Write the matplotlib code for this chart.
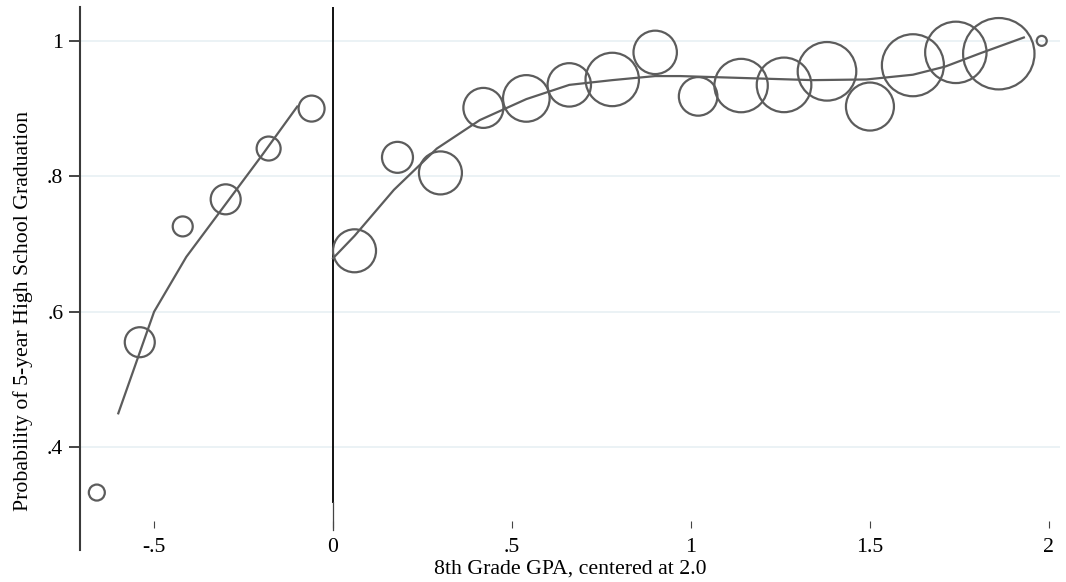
import numpy as np
import matplotlib.pyplot as plt
from matplotlib.lines import Line2D

# binned means (circles), left and right of the cutoff
left_x = [-0.66, -0.54, -0.42, -0.30, -0.18, -0.06]
left_y = [0.333, 0.555, 0.726, 0.766, 0.841, 0.900]
left_w = [64, 225, 100, 225, 144, 169]

right_x = [0.06, 0.18, 0.30, 0.42, 0.54, 0.66, 0.78, 0.90, 1.02, 1.14,
           1.26, 1.38, 1.50, 1.62, 1.74, 1.86, 1.98]
right_y = [0.690, 0.828, 0.805, 0.901, 0.915, 0.935, 0.943, 0.983, 0.918, 0.934,
           0.935, 0.955, 0.903, 0.964, 0.983, 0.981, 1.000]
right_w = [462, 240, 462, 400, 543, 471, 713, 471, 372, 713,
           745, 858, 576, 961, 942, 1274, 25]

# fitted curves
fit_left_x = [-0.60, -0.50, -0.41, -0.30, -0.20, -0.10]
fit_left_y = [0.450, 0.600, 0.681, 0.759, 0.830, 0.903]

fit_right_x = [0.0, 0.06, 0.17, 0.29, 0.41, 0.54, 0.66, 0.78, 0.90, 0.97,
               1.155, 1.34, 1.49, 1.62, 1.71, 1.81, 1.93]
fit_right_y = [0.679, 0.712, 0.780, 0.841, 0.883, 0.914, 0.935, 0.942, 0.948, 0.948,
               0.945, 0.942, 0.943, 0.950, 0.962, 0.982, 1.005]

xticks = [-0.5, 0, 0.5, 1, 1.5, 2]
xticklabels = ["-.5", "0", ".5", "1", "1.5", "2"]
yticks = [0.4, 0.6, 0.8, 1.0]
yticklabels = [".4", ".6", ".8", "1"]

GREY = "#5c5c5c"
FONT = "Liberation Serif"
FS = 15.7

fig = plt.figure(figsize=(10.66, 5.82), dpi=100)
ax = fig.add_axes([80 / 1066, 61 / 582, 980 / 1066, 514 / 582])

ax.set_xlim(-0.707, 2.031)
ax.set_ylim(0.291, 1.050)

for y in yticks:
    ax.axhline(y, color="#e8f0f3", linewidth=1.2, zorder=0)

# cutoff line, thinner where it meets the axis tick
ax.axvline(0, ymin=0.037, ymax=1, color="#111111", linewidth=1.4, zorder=2)
ax.add_line(Line2D([0, 0], [-0.017, 0.037], transform=ax.get_xaxis_transform(),
                   color="#444444", linewidth=0.9, clip_on=False, zorder=2))

ax.plot(fit_left_x, fit_left_y, color=GREY, linewidth=1.6, zorder=3)
ax.plot(fit_right_x, fit_right_y, color=GREY, linewidth=1.6, zorder=3)

k = (1.44) ** 2
ax.scatter(left_x, left_y, s=np.array(left_w) * k, facecolors="none",
           edgecolors=GREY, linewidths=1.6, zorder=4)
ax.scatter(right_x, right_y, s=np.array(right_w) * k, facecolors="none",
           edgecolors=GREY, linewidths=1.6, zorder=4)

for side in ["top", "right", "bottom", "left"]:
    ax.spines[side].set_visible(False)
# y axis line runs a bit below the plot region
ax.add_line(Line2D([0, 0], [-0.056, 1], transform=ax.transAxes, color="#3a3a3a",
                   linewidth=1.5, clip_on=False))

ax.set_xticks(xticks)
ax.set_xticklabels(xticklabels, fontname=FONT, fontsize=FS)
ax.set_yticks(yticks)
ax.set_yticklabels(yticklabels, fontname=FONT, fontsize=FS)
ax.tick_params(axis="x", direction="out", length=5, width=0.8, pad=7, color="#444444")
ax.tick_params(axis="y", direction="out", length=8, width=1.4, pad=4, color="#444444")

ax.set_xlabel("8th Grade GPA, centered at 2.0", fontname=FONT, fontsize=FS)
ax.set_ylabel("Probability of 5-year High School Graduation", fontname=FONT, fontsize=FS)
ax.xaxis.set_label_coords(0.5, -0.094)
ax.xaxis.label.set_va("center")
ax.yaxis.set_label_coords(-0.058, 0.409)
ax.yaxis.label.set_va("center")

plt.savefig("out.png", dpi=100)
plt.close()
